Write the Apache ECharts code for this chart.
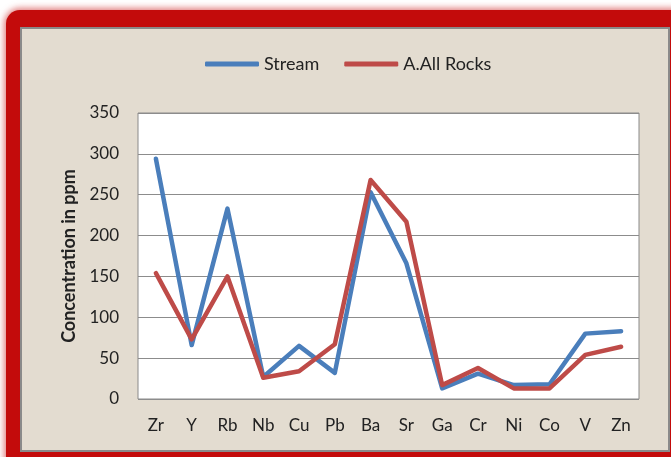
<!DOCTYPE html>
<html>
<head>
    <meta charset="utf-8">
    <title>Concentration in ppm</title>
    <script src="https://cdn.jsdelivr.net/npm/echarts@6/dist/echarts.min.js"></script>
    <style>
        html, body { margin: 0; padding: 0; background: #fff; overflow: hidden; }
        #frame {
            position: absolute; left: 6px; top: 10px; width: 720px; height: 500px;
            background: #c30b0b; border-radius: 14px;
            box-shadow: 0 0 6px 2px rgba(200, 20, 20, 0.55);
        }
        #panel {
            position: absolute; left: 20px; top: 27px; width: 646px; height: 421px;
            background: #e3dcd0; border: 2px solid #8a8a8a;
        }
        #main { position: absolute; left: 0; top: 0; width: 671px; height: 457px; }
    </style>
</head>
<body>
<div id="frame"></div>
<div id="panel"></div>
<div id="main"></div>

<script type="text/javascript">
    // 数据
    var elements = ['Zr', 'Y', 'Rb', 'Nb', 'Cu', 'Pb', 'Ba', 'Sr', 'Ga', 'Cr', 'Ni', 'Co', 'V', 'Zn'];
    var stream   = [294, 66, 233, 27, 65, 32, 253, 166, 13, 31, 17, 18, 80, 83];
    var allRocks = [154, 73, 150, 26, 34, 67, 268, 217, 17, 38, 13, 13, 54, 64];

    var font = 'Lato';
    var myChart = echarts.init(document.getElementById('main'));

    var option = {
        backgroundColor: 'transparent',
        textStyle: { fontFamily: font, color: '#222' },
        legend: {
            left: 205,
            top: 55,
            padding: 0,
            icon: 'roundRect',
            itemWidth: 54,
            itemHeight: 5,
            itemGap: 25,
            textStyle: { fontFamily: font, fontSize: 18, color: '#222' },
            data: ['Stream', 'A.All Rocks']
        },
        grid: {
            left: 138, top: 113, right: 32, bottom: 58,
            show: true,
            backgroundColor: '#fff',
            borderColor: '#8a8a8a',
            borderWidth: 1
        },
        xAxis: {
            type: 'category',
            data: elements,
            axisLine: { show: false },
            axisTick: { show: false },
            axisLabel: { margin: 18, fontSize: 17, color: '#222', fontFamily: font, interval: 0 }
        },
        yAxis: {
            type: 'value',
            min: 0, max: 350, interval: 50,
            name: 'Concentration in ppm',
            nameLocation: 'middle',
            nameGap: 60,
            nameTextStyle: { fontSize: 18, fontWeight: 'bold', color: '#222', fontFamily: font },
            axisLine: { show: false },
            axisTick: { show: false },
            axisLabel: { margin: 19, fontSize: 17, color: '#222', fontFamily: font },
            splitLine: { lineStyle: { color: '#8c8c8c', width: 1 } }
        },
        series: [
            {
                name: 'Stream',
                type: 'line',
                data: stream,
                symbol: 'none',
                color: '#4a7ebb',
                lineStyle: { width: 4.5, join: 'round', cap: 'round' }
            },
            {
                name: 'A.All Rocks',
                type: 'line',
                data: allRocks,
                symbol: 'none',
                color: '#be4b48',
                lineStyle: { width: 4.5, join: 'round', cap: 'round' }
            }
        ]
    };

    myChart.setOption(option);
</script>
</body>
</html>
